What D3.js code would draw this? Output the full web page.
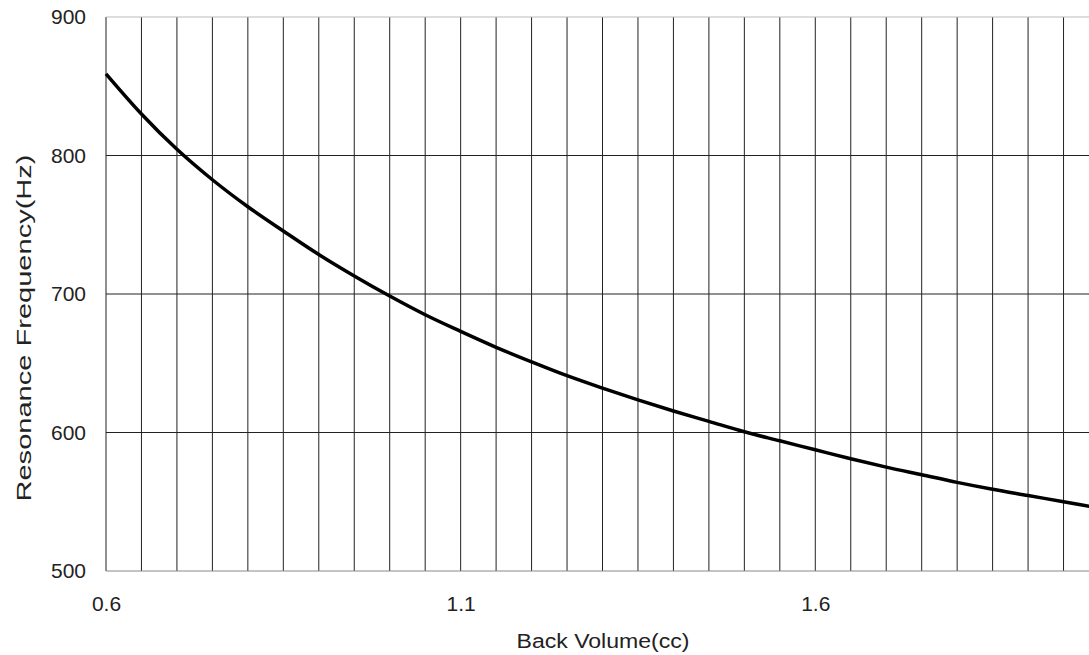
<!DOCTYPE html>
<html>
<head>
<meta charset="utf-8">
<script src="https://cdn.jsdelivr.net/npm/d3@7/dist/d3.min.js"></script>
<style>
	body { margin: 0; background: #fff; }
	svg { display: block; }
	text { font-family: "Liberation Sans", Arial, sans-serif; fill: #222; }
</style>
</head>
<body>
<script>
// back volume (cc) and resonance frequency (Hz)
var volume = [0.6, 0.65, 0.7, 0.75, 0.8, 0.85, 0.9, 0.95, 1.0, 1.05, 1.1, 1.15, 1.2, 1.25,
	1.3, 1.35, 1.4, 1.45, 1.5, 1.55, 1.6, 1.65, 1.7, 1.75, 1.8, 1.85, 1.9, 1.95, 2.0];
var frequency = [859, 830, 804.5, 782.5, 763, 745.5, 728.5, 713, 698.5, 685, 673, 661.5, 651, 641,
	632, 623.5, 615.5, 608, 600.5, 594, 587.5, 581, 575, 569.5, 564, 559, 554.5, 550, 545.5];
var xTicks = [0.6, 1.1, 1.6];
var yTicks = [500, 600, 700, 800, 900];

var width = 1089, height = 655;

var svg = d3.select('body').append('svg')
	.attr('width', width)
	.attr('height', height);

var x = d3.scaleLinear().domain([0.6, 2.0]).range([106, 1099]),
	y = d3.scaleLinear().domain([500, 900]).range([571, 17]);

// vertical grid every 0.05 cc
var xGrid = d3.range(0, 29).map(function(i) { return 0.6 + i * 0.05; });

svg.append('g')
	.selectAll('line')
	.data(xGrid)
	.enter().append('line')
	.attr('x1', function(d) { return x(d); })
	.attr('x2', function(d) { return x(d); })
	.attr('y1', y(900))
	.attr('y2', y(500))
	.attr('stroke', '#222')
	.attr('stroke-width', 1);

svg.append('g')
	.selectAll('line')
	.data(yTicks)
	.enter().append('line')
	.attr('x1', x(0.6))
	.attr('x2', x(2.0))
	.attr('y1', function(d) { return y(d); })
	.attr('y2', function(d) { return y(d); })
	.attr('stroke', function(d) { return d === 900 ? '#bbb' : (d === 500 ? '#888' : '#222'); })
	.attr('stroke-width', 1);

// axes, just the labels
var yAxis = d3.axisLeft(y).tickValues(yTicks).tickSize(0).tickPadding(0).tickFormat(d3.format('d'));
svg.append('g')
	.attr('transform', 'translate(86,0)')
	.call(yAxis)
	.call(function(g) {
		g.select('.domain').remove();
		g.selectAll('text').attr('font-size', 21).attr('fill', '#222');
	});

var xAxis = d3.axisBottom(x).tickValues(xTicks).tickSize(0).tickPadding(0).tickFormat(d3.format('.1f'));
svg.append('g')
	.attr('transform', 'translate(0,596)')
	.call(xAxis)
	.call(function(g) {
		g.select('.domain').remove();
		g.selectAll('text').attr('font-size', 21).attr('fill', '#222');
	});

// the curve
var line = d3.line()
	.x(function(d) { return x(d[0]); })
	.y(function(d) { return y(d[1]); })
	.curve(d3.curveMonotoneX);

svg.append('path')
	.datum(d3.zip(volume, frequency))
	.attr('d', line)
	.attr('fill', 'none')
	.attr('stroke', '#000')
	.attr('stroke-width', 3.5);

// axis titles
svg.append('text')
	.text('Back Volume(cc)')
	.attr('x', 603)
	.attr('y', 648)
	.attr('text-anchor', 'middle')
	.attr('font-size', 20)
	.attr('textLength', 173)
	.attr('lengthAdjust', 'spacingAndGlyphs');

svg.append('text')
	.text('Resonance Frequency(Hz)')
	.attr('transform', 'translate(31,328) rotate(-90)')
	.attr('text-anchor', 'middle')
	.attr('font-size', 20)
	.attr('textLength', 347)
	.attr('lengthAdjust', 'spacingAndGlyphs');
</script>
</body>
</html>
